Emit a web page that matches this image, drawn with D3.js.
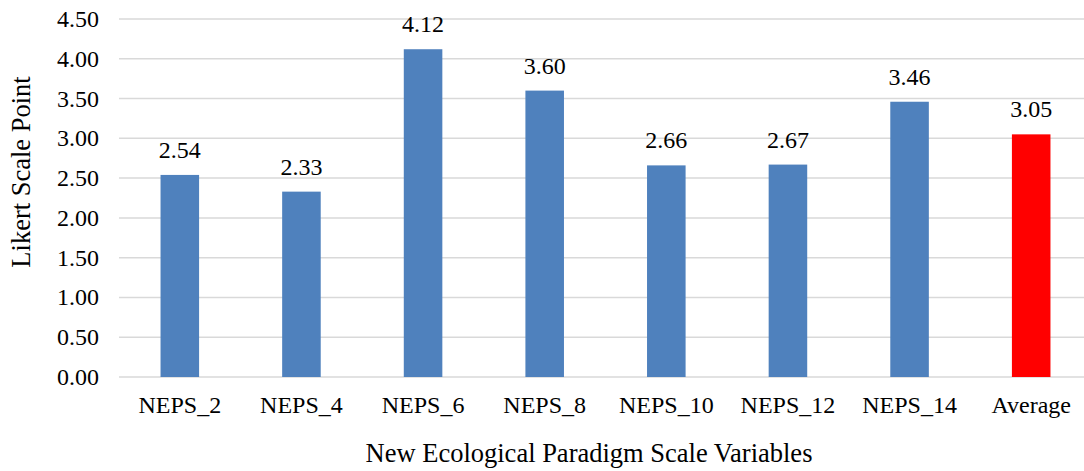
<!DOCTYPE html>
<html>
<head>
<meta charset="utf-8">
<script src="https://cdn.jsdelivr.net/npm/d3@7"></script>
<style>
  body { margin: 0; background: #fff; }
</style>
</head>
<body>
<div id="chart"></div>
<script>
// data
var categories = ["NEPS_2", "NEPS_4", "NEPS_6", "NEPS_8", "NEPS_10", "NEPS_12", "NEPS_14", "Average"];
var values = [2.54, 2.33, 4.12, 3.60, 2.66, 2.67, 3.46, 3.05];
var yTicks = [0, 0.5, 1, 1.5, 2, 2.5, 3, 3.5, 4, 4.5];

var w = 1084;
var h = 471;
var serif = "'Liberation Serif', 'Times New Roman', serif";

var svg = d3.select("#chart")
	.append("svg")
	.attr("width", w)
	.attr("height", h)
	.attr("font-family", serif);

// plot area runs past the right edge, like the original crop
var x = d3.scaleBand()
	.domain(categories)
	.range([119, 1092])
	.paddingInner(0.683)
	.paddingOuter(0.3415);

var y = d3.scaleLinear()
	.domain([0, 4.5])
	.range([377, 19]);

// gridlines
svg.append("g")
	.selectAll("line")
	.data(yTicks)
	.enter().append("line")
	.attr("x1", 119)
	.attr("x2", 1092)
	.attr("y1", function(d) { return y(d); })
	.attr("y2", function(d) { return y(d); })
	.style("stroke", "#d9d9d9")
	.style("stroke-width", 1.5);

// y tick labels
svg.append("g")
	.selectAll("text")
	.data(yTicks)
	.enter().append("text")
	.attr("x", 99)
	.attr("y", function(d) { return y(d) + 8; })
	.attr("text-anchor", "end")
	.attr("font-size", 24)
	.text(function(d) { return d3.format(".2f")(d); });

// bars
svg.append("g")
	.selectAll("rect")
	.data(values)
	.enter().append("rect")
	.attr("x", function(d, i) { return x(categories[i]); })
	.attr("width", x.bandwidth())
	.attr("y", function(d) { return y(d); })
	.attr("height", function(d) { return y(0) - y(d); })
	.style("fill", function(d, i) { return categories[i] == "Average" ? "#ff0000" : "#4f81bd"; });

// value labels
svg.append("g")
	.selectAll("text")
	.data(values)
	.enter().append("text")
	.attr("x", function(d, i) { return x(categories[i]) + x.bandwidth() / 2; })
	.attr("y", function(d) { return y(d) - 17; })
	.attr("text-anchor", "middle")
	.attr("font-size", 24)
	.text(function(d) { return d3.format(".2f")(d); });

// x tick labels
svg.append("g")
	.selectAll("text")
	.data(categories)
	.enter().append("text")
	.attr("x", function(d) { return x(d) + x.bandwidth() / 2; })
	.attr("y", 413)
	.attr("text-anchor", "middle")
	.attr("font-size", 24)
	.text(function(d) { return d; });

// axis titles
svg.append("text")
	.attr("x", 589)
	.attr("y", 462)
	.attr("text-anchor", "middle")
	.attr("font-size", 26.5)
	.text("New Ecological Paradigm Scale Variables");

svg.append("text")
	.attr("transform", "translate(30,172) rotate(-90)")
	.attr("text-anchor", "middle")
	.attr("font-size", 26.5)
	.text("Likert Scale Point");
</script>
</body>
</html>
